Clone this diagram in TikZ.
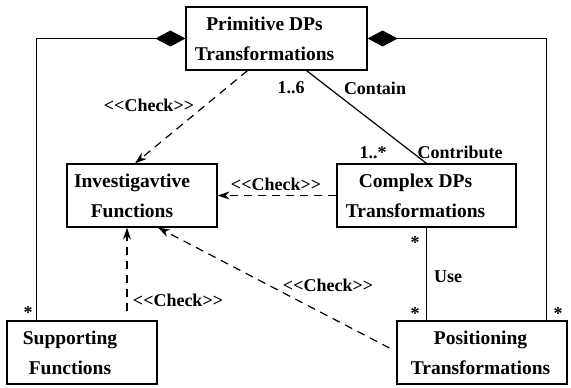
\documentclass[tikz,border=0pt]{standalone}
\usepackage{fontspec}
\setmainfont{Liberation Serif}
\usetikzlibrary{arrows.meta,positioning,calc}

\begin{document}
\begin{tikzpicture}[x=0.5pt,y=-0.5pt,line width=0.6pt,
  >={Stealth[length=6pt,width=4pt]},
  cls/.style={draw,minimum height=31.5pt,inner sep=0pt},
  clstext/.style={font=\fontsize{9.75}{15}\selectfont\bfseries,align=center},
  lbl/.style={font=\fontsize{9}{10}\selectfont\bfseries,inner sep=0pt},
  dep/.style={dash pattern=on 4pt off 3pt,->},
  comp/.style={{Diamond[length=15pt,width=8pt]}-}]
  \useasboundingbox (0,0) rectangle (571,387);
  % Classes
  \node[cls,minimum width=90.5pt,label={[clstext,name=primtxt,xshift=-6pt]center:{Primitive DPs\\Transformations}}] (prim) at (276.5,38.5) {};
  \node[cls,minimum width=75pt,label={[clstext,name=invtxt,xshift=-5pt]center:{Investigavtive\\Functions}}] (inv) at (142,195.5) {};
  \node[cls,minimum width=89.5pt,label={[clstext,name=cplxtxt,xshift=-5.5pt]center:{Complex DPs\\Transformations}}] (cplx) at (426.5,195.5) {};
  \node[cls,minimum width=75pt,label={[clstext,name=supptxt,xshift=-6pt]center:{Supporting\\Functions}}] (supp) at (82,352.5) {};
  \node[cls,minimum width=85pt,label={[clstext,name=postxt,xshift=-0.75pt]center:{Positioning\\Transformations}}] (pos) at (482,352.5) {};
  % Composition (filled diamonds)
  \draw[comp] (prim.west) -| ([xshift=15pt]supp.north west);
  \draw[comp] (prim.east) -| ([xshift=-10.5pt]pos.north east);
  % Associations
  \draw ([xshift=15pt]prim.south) -- (cplx.north);
  \draw (cplx.south) -- (cplx.south |- pos.north);
  % Dependencies <<Check>>
  \draw[dep] ([xshift=-14.5pt]prim.south) -- ([xshift=-3.5pt]inv.north);
  \draw[dep] (cplx.west) -- (inv.east);
  \draw[dep] ([shift={(22.5pt,4.5pt)}]supp.north) -- ([xshift=-7.5pt]inv.south);
  \draw[dep] ([shift={(-3.5pt,2.25pt)}]pos.west) -- ([xshift=8pt]inv.south);
  % Labels
  \foreach \n/\x/\y in {chkprim/149/105, chkcplx/276/184, chksupp/178/300, chkpos/328/285}{
    \node[lbl] (\n) at (\x,\y) {<{}<Check>{}>};
  }
  \node[lbl] (mult16) at (291,88) {1..6};
  \node[lbl] (contain) at (375,88) {Contain};
  \node[lbl] (mult1s) at (373,153) {1..*};
  \node[lbl] (contrib) at (460,152) {Contribute};
  \node[lbl] (use) at (448,277) {Use};
  \foreach \n/\x/\y in {starc/415/243, starp/415/314, starr/558/314, stars/28/313}{
    \node[lbl] (\n) at (\x,\y) {*};
  }
\end{tikzpicture}
\end{document}
